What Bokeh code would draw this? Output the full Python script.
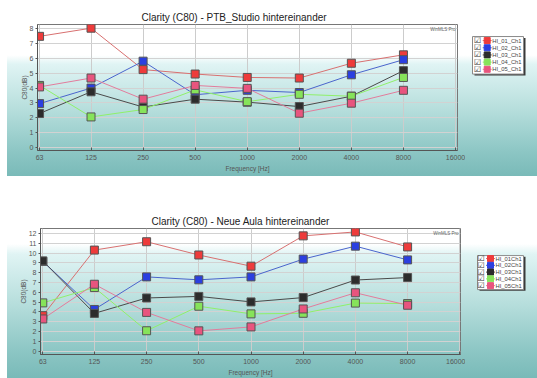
from bokeh.plotting import figure
from bokeh.layouts import column, row
from bokeh.models import Range1d, FixedTicker, Label, Title
from bokeh.core.properties import value
from bokeh.embed import file_html
from bokeh.resources import INLINE

# ---- data ----
freqs = [63, 125, 250, 500, 1000, 2000, 4000, 8000]
tick_freqs = [63, 125, 250, 500, 1000, 2000, 4000, 8000, 16000]
tick_labels = ["63", "125", "250", "500", "1000", "2000", "4000", "8000", "16000"]

studio_title = "Clarity (C80) - PTB_Studio hintereinander"
studio_names = ["HI_01_Ch1", "HI_02_Ch1", "HI_03_Ch1", "HI_04_Ch1", "HI_05_Ch1"]
studio_hi01 = [7.5, 8.05, 5.25, 4.95, 4.72, 4.68, 5.68, 6.25]
studio_hi02 = [2.95, 4.0, 5.82, 3.55, 3.85, 3.7, 4.9, 5.92]
studio_hi03 = [2.28, 3.75, 2.72, 3.25, 3.05, 2.75, 3.45, 5.18]
studio_hi04 = [4.18, 2.05, 2.55, 3.88, 3.08, 3.58, 3.45, 4.72]
studio_hi05 = [4.08, 4.68, 3.25, 4.18, 3.98, 2.3, 2.98, 3.85]
studio_yticks = [0, 1, 2, 3, 4, 5, 6, 7, 8]

aula_title = "Clarity (C80) - Neue Aula hintereinander"
aula_names = ["HI_01Ch1", "HI_02Ch1", "HI_03Ch1", "HI_04Ch1", "HI_05Ch1"]
aula_hi01 = [3.62, 10.3, 11.15, 9.8, 8.66, 11.75, 12.15, 10.62]
aula_hi02 = [9.15, 4.25, 7.57, 7.27, 7.57, 9.38, 10.7, 9.3]
aula_hi03 = [9.2, 3.85, 5.42, 5.58, 5.02, 5.46, 7.25, 7.5]
aula_hi04 = [4.92, 6.48, 2.08, 4.58, 3.8, 3.86, 4.9, 4.85]
aula_hi05 = [3.28, 6.82, 3.95, 2.07, 2.47, 4.3, 5.95, 4.68]
aula_yticks = [0, 1, 2, 3, 4, 5, 6, 7, 8, 9, 10, 11, 12]

marker_colors = ["#ee3b3b", "#2b3fe0", "#2c2c2c", "#86e35a", "#e8547e"]
line_colors = ["#d87070", "#4a64cc", "#4a4a4a", "#8ff06a", "#e27c9c"]

FONT = "Liberation Sans"
MAIN_W = 465
LEG_W = 72


def grad(start_pct, end_pct):
    return ("linear-gradient(to bottom, #ffffff 0%, #ffffff {a}%, #e0f4f4 {b}%, "
            "#b6dedc {c}%, #8cc6c4 {d}%, #79bab8 {e}%, #ffffff {e}%, #ffffff 100%)").format(
        a=start_pct, b=start_pct + 5, c=start_pct + (end_pct - start_pct) * 0.45,
        d=start_pct + (end_pct - start_pct) * 0.8, e=end_pct)


def chart(title, series, yticks, xr, yr, height, borders, title_offset, bg, left_pad):
    bl, br, bt, bb = borders
    p = figure(width=MAIN_W, height=height, output_backend="svg", toolbar_location=None,
               x_axis_type="log", x_range=Range1d(*xr), y_range=Range1d(*yr),
               min_border_left=bl, min_border_right=br,
               min_border_top=bt, min_border_bottom=bb)
    p.background_fill_alpha = 0
    p.border_fill_alpha = 0
    p.outline_line_color = "#777777"
    p.styles = {"background-image": bg,
                "background-position": "%dpx 0px" % left_pad,
                "background-size": "calc(100%% - %dpx) 100%%" % left_pad,
                "background-repeat": "no-repeat"}
    p.title = Title(text=title, align="left", offset=title_offset, standoff=4,
                    text_font=FONT, text_font_size="10px", text_font_style="normal",
                    text_color="#222222", text_line_height=1.0)

    xa = p.xaxis[0]
    xa.ticker = FixedTicker(ticks=tick_freqs)
    xa.major_label_overrides = {f: l for f, l in zip(tick_freqs, tick_labels)}
    xa.major_tick_in = 3
    xa.major_tick_out = 0
    xa.minor_tick_line_color = None
    xa.axis_line_color = "#555555"
    xa.major_tick_line_color = "#555555"
    xa.major_label_text_font = FONT
    xa.major_label_text_font_size = "7px"
    xa.major_label_text_color = "#555555"
    xa.major_label_standoff = 4
    xa.axis_label = "Frequency [Hz]"
    xa.axis_label_text_font = FONT
    xa.axis_label_text_font_size = "6.5px"
    xa.axis_label_text_font_style = "normal"
    xa.axis_label_text_color = "#555555"
    xa.axis_label_standoff = 2

    ya = p.yaxis[0]
    ya.ticker = FixedTicker(ticks=yticks)
    ya.major_tick_in = 0
    ya.major_tick_out = 2
    ya.minor_tick_line_color = None
    ya.axis_line_color = "#555555"
    ya.major_tick_line_color = "#555555"
    ya.major_label_text_font = FONT
    ya.major_label_text_font_size = "7px"
    ya.major_label_text_color = "#555555"
    ya.major_label_standoff = 2
    ya.axis_label = "C80(dB)"
    ya.axis_label_text_font = FONT
    ya.axis_label_text_font_size = "6.5px"
    ya.axis_label_text_font_style = "normal"
    ya.axis_label_text_color = "#555555"
    ya.axis_label_standoff = -1

    p.xgrid.ticker = FixedTicker(ticks=tick_freqs)
    p.xgrid.grid_line_color = "#cccccc"
    p.ygrid.grid_line_color = "#d2d2d2"

    for ys, lc in zip(series, line_colors):
        p.line(freqs, ys, line_color=lc, line_width=1)
    for ys, mc in zip(series, marker_colors):
        p.scatter(freqs, ys, marker="square", size=8, fill_color=mc,
                  line_color="#555555", line_width=1)

    p.add_layout(Label(x=xr[1], y=yr[1], x_offset=-2, y_offset=-2,
                       text="WinMLS Pro", text_font=FONT, text_font_size="4.5px",
                       text_color="#666666", text_align="right",
                       text_baseline="top"))
    return p


def legend_fig(names, height, box, row0, row_dy, xs, bg):
    q = figure(width=LEG_W, height=height, output_backend="svg", toolbar_location=None,
               x_range=Range1d(0, LEG_W), y_range=Range1d(height, 0), min_border=0)
    q.axis.visible = False
    q.grid.grid_line_color = None
    q.outline_line_color = None
    q.background_fill_alpha = 0
    q.border_fill_alpha = 0
    q.styles = {"background-image": bg}
    l, r, t, b = box
    q.quad(left=[l + 2], right=[r + 2], top=[t + 2], bottom=[b + 2],
           fill_color="#3a3a3a", line_color=None)
    q.quad(left=[l], right=[r], top=[t], bottom=[b],
           fill_color="white", line_color="#8a8a8a", line_width=1)
    cx, sx, tx = xs
    ys = [row0 + i * row_dy for i in range(len(names))]
    q.text(x=[cx] * len(names), y=ys, text=["\u2611"] * len(names),
           text_font=value("DejaVu Sans"), text_font_size="8px", text_color="#333333",
           text_align="center", text_baseline="middle")
    q.segment(x0=[sx - 4.5] * len(names), x1=[sx + 4.5] * len(names), y0=ys, y1=ys,
              line_color=line_colors, line_width=1)
    q.scatter(x=[sx] * len(names), y=ys, marker="square", size=6,
              fill_color=marker_colors, line_color=marker_colors)
    q.text(x=[tx] * len(names), y=ys, text=names, text_font=value(FONT),
           text_font_size="5.8px", text_color="#444444",
           text_align="left", text_baseline="middle")
    return q


TOP_H = 178
BOT_H = 200
top_bg = grad(31, 99)
bot_bg = grad(33, 100)

top = chart(studio_title,
            [studio_hi01, studio_hi02, studio_hi03, studio_hi04, studio_hi05],
            studio_yticks, (61.3, 16430), (-0.22, 8.3), TOP_H, (37, 8, 24, 28), 104,
            top_bg, 7)
top_leg = legend_fig(studio_names, TOP_H, (7, 58, 17, 70), 22.7, 10.15,
                     (12, 21.7, 26.7), top_bg)

bot = chart(aula_title,
            [aula_hi01, aula_hi02, aula_hi03, aula_hi04, aula_hi05],
            aula_yticks, (61.1, 16150), (-0.34, 12.5), BOT_H, (40, 5, 50, 24), 111,
            bot_bg, 7)
bot_leg = legend_fig(aula_names, BOT_H, (12, 58, 43, 97), 47.7, 10.75,
                     (15.7, 25, 30), bot_bg)

layout = column(row(top, top_leg, spacing=0), row(bot, bot_leg, spacing=0), spacing=0)
open("out.html", "w").write(file_html(layout, INLINE))
